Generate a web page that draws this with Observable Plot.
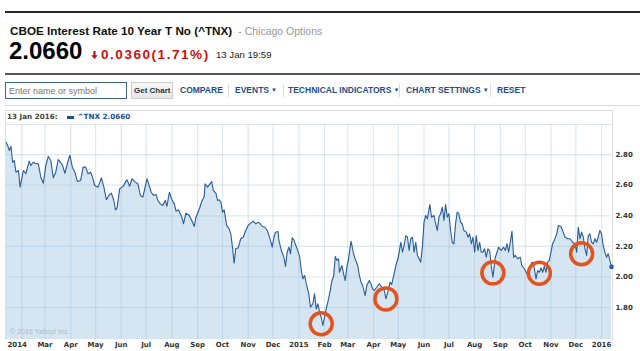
<!DOCTYPE html>
<html><head><meta charset="utf-8">
<script src="https://cdn.jsdelivr.net/npm/d3@7"></script>
<script src="https://cdn.jsdelivr.net/npm/@observablehq/plot@0.6"></script>
<style>
html,body{margin:0;padding:0;background:#fff;}
body{width:640px;height:351px;position:relative;overflow:hidden;font-family:"Liberation Sans",Arial,sans-serif;}
.a{position:absolute;white-space:nowrap;line-height:1;}
.menu{font-weight:bold;font-size:8.5px;color:#1f4e8c;top:86px;}
.sep{position:absolute;top:84px;width:1px;height:13px;background:#dadada;}
.tri{font-size:6px;position:relative;top:-1px;margin-left:2px;}
.vf{font-family:"DejaVu Sans",Verdana,sans-serif;font-weight:bold;}
#chart{position:absolute;left:0;top:110px;}
</style></head><body>
<div class="a" style="left:5px;top:11px;width:635px;height:2px;background:#2b2b2b"></div>
<div class="a" style="left:10px;top:24.5px;font-size:11.7px;font-weight:bold;color:#111">CBOE Interest Rate 10 Year T No (^TNX)<span style="font-weight:normal;color:#999;font-size:10.5px;margin-left:6px">- Chicago Options</span></div>
<div class="a" style="left:9px;top:39px;font-size:24px;font-weight:bold;color:#000">2.0660</div>
<svg class="a" style="left:91px;top:51px" width="7" height="8" viewBox="0 0 7 8"><path d="M3.5 8 L0.3 4.2 L2.4 4.2 L2.4 0 L4.6 0 L4.6 4.2 L6.7 4.2 Z" fill="#cc1111"/></svg>
<div class="a" style="left:101px;top:47.5px;font-size:13.6px;font-weight:bold;color:#cc1111;letter-spacing:1.5px">0.0360(1.71%)</div>
<div class="a" style="left:216px;top:50px;font-size:9.6px;color:#222">13 Jan 19:59</div>
<div class="a" style="left:5px;top:73px;width:635px;height:2px;background:#555"></div>

<div class="a" style="left:5px;top:82px;width:122px;height:17px;box-sizing:border-box;border:1.5px solid #3d5fa3;background:#fff"></div>
<div class="a" style="left:9px;top:86.5px;font-size:9px;color:#777">Enter name or symbol</div>
<div class="a" style="left:131px;top:82px;width:42px;height:17px;box-sizing:border-box;border:1px solid #cfcfcf;background:linear-gradient(#f7f7f7,#e6e6e6)"></div>
<div class="a" style="left:134px;top:87px;font-size:8px;font-weight:bold;color:#333">Get Chart</div>
<div class="a menu" style="left:180px">COMPARE</div>
<div class="sep" style="left:228px"></div>
<div class="a menu" style="left:235px">EVENTS<span class="tri">▼</span></div>
<div class="sep" style="left:283px"></div>
<div class="a menu" style="left:288px">TECHNICAL INDICATORS<span class="tri">▼</span></div>
<div class="sep" style="left:399px"></div>
<div class="a menu" style="left:406px">CHART SETTINGS<span class="tri">▼</span></div>
<div class="sep" style="left:490px"></div>
<div class="a menu" style="left:497px">RESET</div>
<div class="a" style="left:5px;top:104.5px;width:635px;height:1.5px;background:#dcdcdc"></div>

<div class="a" style="left:5px;top:110px;width:606px;height:229px;border:1px solid #dcdcdc;border-bottom:none"></div>
<div class="a" style="left:5px;top:123.5px;width:607px;height:1px;background:#dfe6ee"></div>
<div id="chart"></div>
<div class="a vf" style="left:7px;top:113px;font-size:7.2px;color:#444">13 Jan 2016:</div>
<div class="a" style="left:66.5px;top:116px;width:7.5px;height:2.7px;background:#22508f"></div>
<div class="a vf" style="left:77.5px;top:113px;font-size:7.2px;color:#22508f">^TNX 2.0660</div>
<div class="a" style="left:10px;top:327.5px;font-size:7px;color:#a9b9cc">© 2016 Yahoo! Inc.</div>

<script>
const dates = [
"2014-01-13","2014-01-15","2014-01-17","2014-01-19","2014-01-21","2014-01-23","2014-01-25","2014-01-28","2014-01-30","2014-02-03",
"2014-02-06","2014-02-10","2014-02-12","2014-02-15","2014-02-18","2014-02-21","2014-02-24","2014-02-27","2014-03-02","2014-03-05",
"2014-03-08","2014-03-11","2014-03-14","2014-03-17","2014-03-22","2014-03-25","2014-03-28","2014-03-31","2014-04-03","2014-04-06",
"2014-04-09","2014-04-13","2014-04-16","2014-04-19","2014-04-22","2014-04-25","2014-04-27","2014-04-30","2014-05-04","2014-05-08",
"2014-05-11","2014-05-14","2014-05-17","2014-05-20","2014-05-23","2014-05-25","2014-05-27","2014-05-30","2014-06-03","2014-06-06",
"2014-06-08","2014-06-11","2014-06-14","2014-06-18","2014-06-21","2014-06-24","2014-06-27","2014-07-02","2014-07-04","2014-07-07",
"2014-07-10","2014-07-13","2014-07-15","2014-07-18","2014-07-21","2014-07-24","2014-07-26","2014-07-29","2014-08-01","2014-08-04",
"2014-08-06","2014-08-09","2014-08-13","2014-08-15","2014-08-18","2014-08-22","2014-08-25","2014-08-28","2014-08-30","2014-09-03",
"2014-09-06","2014-09-09","2014-09-10","2014-09-13","2014-09-16","2014-09-18","2014-09-20","2014-09-23","2014-09-25","2014-09-27",
"2014-09-29","2014-10-01","2014-10-03","2014-10-06","2014-10-09","2014-10-11","2014-10-13","2014-10-15","2014-10-17","2014-10-20",
"2014-10-23","2014-10-26","2014-10-29","2014-11-01","2014-11-04","2014-11-07","2014-11-10","2014-11-14","2014-11-18","2014-11-21",
"2014-11-24","2014-11-27","2014-11-30","2014-12-02","2014-12-04","2014-12-07","2014-12-08","2014-12-11","2014-12-14","2014-12-16",
"2014-12-18","2014-12-20","2014-12-22","2014-12-24","2014-12-26","2014-12-28","2014-12-30","2015-01-02","2015-01-04","2015-01-06",
"2015-01-08","2015-01-10","2015-01-13","2015-01-15","2015-01-18","2015-01-20","2015-01-22","2015-01-24","2015-01-26","2015-01-28",
"2015-01-30","2015-02-01","2015-02-03","2015-02-05","2015-02-08","2015-02-10","2015-02-12","2015-02-14","2015-02-16","2015-02-18",
"2015-02-19","2015-02-22","2015-02-24","2015-02-26","2015-02-28","2015-03-02","2015-03-05","2015-03-08","2015-03-10","2015-03-13",
"2015-03-15","2015-03-17","2015-03-19","2015-03-22","2015-03-24","2015-03-27","2015-03-29","2015-03-31","2015-04-02","2015-04-05",
"2015-04-08","2015-04-11","2015-04-14","2015-04-16","2015-04-19","2015-04-21","2015-04-23","2015-04-26","2015-04-28","2015-05-01",
"2015-05-04","2015-05-06","2015-05-08","2015-05-10","2015-05-12","2015-05-14","2015-05-16","2015-05-18","2015-05-20","2015-05-22",
"2015-05-24","2015-05-26","2015-05-28","2015-05-30","2015-06-01","2015-06-03","2015-06-05","2015-06-08","2015-06-10","2015-06-13",
"2015-06-15","2015-06-17","2015-06-19","2015-06-21","2015-06-23","2015-06-25","2015-06-27","2015-06-29","2015-07-01","2015-07-03",
"2015-07-05","2015-07-07","2015-07-09","2015-07-11","2015-07-13","2015-07-15","2015-07-17","2015-07-19","2015-07-22","2015-07-24",
"2015-07-26","2015-07-28","2015-07-30","2015-08-01","2015-08-03","2015-08-05","2015-08-07","2015-08-09","2015-08-11","2015-08-13",
"2015-08-15","2015-08-17","2015-08-19","2015-08-21","2015-08-23","2015-08-26","2015-08-28","2015-08-30","2015-09-02","2015-09-05",
"2015-09-07","2015-09-09","2015-09-11","2015-09-13","2015-09-15","2015-09-17","2015-09-19","2015-09-22","2015-09-25","2015-09-27",
"2015-09-30","2015-10-03","2015-10-06","2015-10-09","2015-10-11","2015-10-14","2015-10-16","2015-10-18","2015-10-20","2015-10-22",
"2015-10-24","2015-10-26","2015-10-28","2015-10-30","2015-11-01","2015-11-03","2015-11-05","2015-11-08","2015-11-10","2015-11-13",
"2015-11-15","2015-11-18","2015-11-21","2015-11-24","2015-11-27","2015-11-30","2015-12-02","2015-12-04","2015-12-06","2015-12-08",
"2015-12-10","2015-12-12","2015-12-14","2015-12-16","2015-12-18","2015-12-20","2015-12-22","2015-12-24","2015-12-26","2015-12-28",
"2015-12-30","2016-01-01","2016-01-03","2016-01-05","2016-01-07","2016-01-09","2016-01-13"];
const values = [
2.881,2.859,2.827,2.853,2.750,2.761,2.685,2.696,2.587,2.696,
2.675,2.757,2.729,2.750,2.740,2.740,2.652,2.613,2.729,2.788,
2.761,2.648,2.685,2.768,2.733,2.678,2.740,2.796,2.718,2.685,
2.624,2.631,2.718,2.718,2.675,2.685,2.657,2.598,2.587,2.648,
2.587,2.505,2.533,2.548,2.500,2.439,2.452,2.576,2.592,2.620,
2.635,2.592,2.642,2.620,2.609,2.533,2.522,2.642,2.609,2.554,
2.533,2.539,2.500,2.478,2.467,2.500,2.461,2.554,2.505,2.478,
2.430,2.439,2.391,2.348,2.417,2.402,2.369,2.330,2.391,2.443,
2.493,2.526,2.609,2.587,2.609,2.624,2.565,2.548,2.500,2.505,
2.489,2.424,2.439,2.337,2.315,2.282,2.195,2.090,2.184,2.191,
2.250,2.260,2.304,2.337,2.352,2.365,2.348,2.358,2.330,2.325,
2.304,2.256,2.195,2.260,2.293,2.297,2.239,2.173,2.129,2.069,
2.162,2.195,2.152,2.256,2.243,2.212,2.184,2.134,2.042,1.988,
2.010,1.956,1.890,1.803,1.825,1.890,1.792,1.825,1.770,1.737,
1.683,1.737,1.792,1.835,1.912,1.977,2.003,2.134,2.108,2.119,
2.031,2.075,2.020,1.977,2.064,2.119,2.234,2.152,2.119,2.075,
2.010,1.966,1.944,1.879,1.944,1.977,1.956,1.923,1.912,1.933,
1.956,1.933,1.912,1.858,1.912,1.966,1.951,2.021,2.075,2.129,
2.227,2.162,2.206,2.271,2.260,2.173,2.250,2.260,2.162,2.227,
2.141,2.119,2.097,2.195,2.358,2.402,2.380,2.474,2.391,2.402,
2.348,2.304,2.391,2.413,2.456,2.369,2.474,2.391,2.413,2.304,
2.227,2.217,2.348,2.424,2.413,2.358,2.348,2.304,2.293,2.260,
2.282,2.217,2.260,2.162,2.271,2.173,2.227,2.162,2.162,2.184,
2.129,2.184,2.173,2.075,1.999,2.129,2.162,2.195,2.173,2.195,
2.173,2.217,2.162,2.227,2.299,2.129,2.141,2.119,2.129,2.075,
2.054,2.021,2.054,2.097,2.090,1.988,2.042,2.031,2.060,2.031,
2.069,2.031,2.097,2.108,2.162,2.217,2.239,2.282,2.337,2.330,
2.304,2.260,2.250,2.250,2.227,2.217,2.162,2.325,2.250,2.293,
2.260,2.184,2.141,2.271,2.282,2.227,2.217,2.250,2.227,2.260,
2.304,2.282,2.206,2.162,2.129,2.152,2.066];

const circleDates = ["2015-01-28","2015-04-16","2015-08-23","2015-10-18","2015-12-08"];
const circleValues = [1.694, 1.857, 2.027, 2.025, 2.152];

const xDomain = ["2014-01-13","2016-01-13"];
const yDomain = [1.5915, 2.9967];
const gridDates = ["2014-02-01","2014-03-01","2014-04-01","2014-05-01","2014-06-01","2014-07-01","2014-08-01","2014-09-01","2014-10-01","2014-11-01","2014-12-01","2015-01-01",
"2015-02-01","2015-03-01","2015-04-01","2015-05-01","2015-06-01","2015-07-01","2015-08-01","2015-09-01","2015-10-01","2015-11-01","2015-12-01","2016-01-01"];
const xTickDates = ["2014-01-13","2014-03-01","2014-04-01","2014-05-01","2014-06-01","2014-07-01","2014-08-01","2014-09-01","2014-10-01","2014-11-01","2014-12-01","2015-01-01",
"2015-02-01","2015-03-01","2015-04-01","2015-05-01","2015-06-01","2015-07-01","2015-08-01","2015-09-01","2015-10-01","2015-11-01","2015-12-01","2016-01-01"];
const xTickLabels = ["2014","Mar","Apr","May","Jun","Jul","Aug","Sep","Oct","Nov","Dec","2015","Feb","Mar","Apr","May","Jun","Jul","Aug","Sep","Oct","Nov","Dec","2016"];
const yTicks = [1.8, 2.0, 2.2, 2.4, 2.6, 2.8];
const yTickLabels = ["1.80","2.00","2.20","2.40","2.60","2.80"];

const parse = d3.utcParse("%Y-%m-%d");
const data = dates.map((d, i) => ({date: parse(d), value: values[i]}));
const last = [data[data.length - 1]];
const circles = circleDates.map((d, i) => ({date: parse(d), value: circleValues[i]}));
const xt = xTickDates.map((d, i) => ({date: parse(d), label: xTickLabels[i]}));
const yt = yTicks.map((v, i) => ({value: v, label: yTickLabels[i]}));

const lineColor = "#2a5c96";
const font = {fontFamily: "'DejaVu Sans', Verdana, sans-serif", fontWeight: "bold", fontSize: 7, fill: "#333"};

const chart = Plot.plot({
  width: 640, height: 241,
  marginLeft: 5.5, marginRight: 29, marginTop: 14, marginBottom: 12,
  x: {type: "utc", domain: xDomain.map(parse), axis: null},
  y: {domain: yDomain, axis: null},
  style: {background: "transparent", overflow: "visible"},
  marks: [
    Plot.areaY(data, {x: "date", y1: yDomain[0], y2: "value", fill: "#d5e5f1", curve: "linear"}),
    Plot.ruleX(gridDates.map(parse), {x: d => d, y1: yDomain[0], y2: yDomain[1], stroke: "#9fbcd6", strokeOpacity: 0.35, strokeWidth: 1.2}),
    Plot.ruleY(yTicks, {y: d => d, stroke: "#9fbcd6", strokeOpacity: 0.35, strokeWidth: 1.2}),
    Plot.line(data, {x: "date", y: "value", stroke: lineColor, strokeWidth: 1.1}),
    Plot.dot(last, {x: "date", y: "value", r: 2.3, fill: lineColor}),
    Plot.dot(circles, {x: "date", y: "value", r: 11, stroke: "#e4531c", strokeWidth: 3.5, fill: "none"}),
    Plot.text(yt, {y: "value", text: "label", frameAnchor: "right", textAnchor: "start", dx: 4, lineAnchor: "middle", ...font}),
    Plot.text(xt.slice(0, 1), {x: "date", text: "label", frameAnchor: "bottom", textAnchor: "start", lineAnchor: "top", dx: 1.5, dy: 3, ...font}),
    Plot.text(xt.slice(1), {x: "date", text: "label", frameAnchor: "bottom", textAnchor: "middle", lineAnchor: "top", dy: 3, ...font})
  ]
});
document.getElementById("chart").appendChild(chart);
</script>
</body></html>
